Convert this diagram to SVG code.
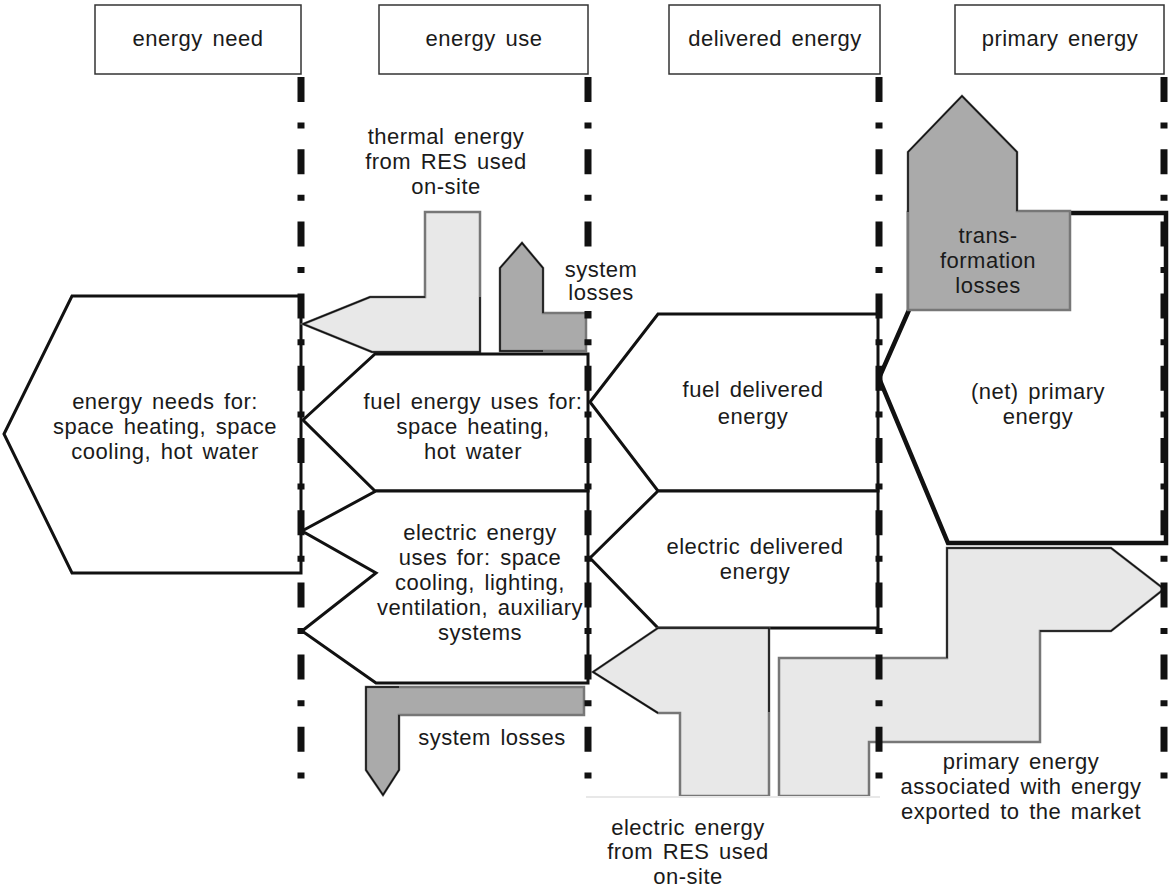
<svg xmlns="http://www.w3.org/2000/svg" width="1169" height="888" viewBox="0 0 1169 888">
<style>
text{font-family:"Liberation Sans",Arial,sans-serif;font-size:22px;letter-spacing:0.5px;word-spacing:3px;fill:#1a1a1a;text-anchor:middle}
.hdr{fill:#fff;stroke:#333;stroke-width:1.5}
.main{fill:#fff;stroke:#111;stroke-width:3;stroke-linejoin:miter}
.thick{fill:#fff;stroke:#111;stroke-width:4.5;stroke-linejoin:miter}
.lg{fill:#e8e8e8;stroke:#777;stroke-width:2.5}
.dg{fill:#aaaaaa;stroke:#777;stroke-width:2.5}
.thin{fill:none;stroke:#111;stroke-width:1.5}
.axis{stroke:#111;stroke-width:7;stroke-dasharray:25 20.6 6 20.6;fill:none}
</style>
<g id="headers">
<g id="h-need"><rect class="hdr" x="95" y="5" width="206" height="69"/><text x="198" y="46">energy need</text></g>
<g id="h-use"><rect class="hdr" x="379" y="5" width="209" height="69"/><text x="484" y="46">energy use</text></g>
<g id="h-delivered"><rect class="hdr" x="669" y="5" width="211" height="69"/><text x="775" y="46">delivered energy</text></g>
<g id="h-primary"><rect class="hdr" x="955" y="5" width="209" height="69"/><text x="1060" y="46">primary energy</text></g>
</g>
<g id="energy-need">
<polygon class="main" points="4,434 72,296 301,296 301,573 72,573"/>
<text x="165" y="409">energy needs for:</text>
<text x="165" y="434">space heating, space</text>
<text x="165" y="459">cooling, hot water</text>
</g>
<g id="thermal-res">
<polygon class="lg" points="425,212 480,212 480,352 372,352 303,324 370,297 425,297"/>
<polyline class="thin" points="480,297 480,352 372,352 303,324 370,297 425,297"/>
<text x="446" y="144">thermal energy</text>
<text x="446" y="169">from RES used</text>
<text x="446" y="194">on-site</text>
</g>
<g id="system-losses-top">
<polygon class="dg" points="500,268 522,243 543,268 543,313 586,313 586,351 500,351"/>
<polyline class="thin" points="543,313 543,268 522,243 500,268 500,351 543,351"/>
</g>
<g id="fuel-uses">
<polygon class="main" points="375,354 588,354 588,491 375,491 303,420"/>
<text x="473" y="409">fuel energy uses for:</text>
<text x="473" y="434">space heating,</text>
<text x="473" y="459">hot water</text>
</g>
<g id="electric-uses">
<polygon class="main" points="376,491 588,491 588,683 376,683 302,631 376,573 302,531"/>
<text x="480" y="540">electric energy</text>
<text x="480" y="565">uses for: space</text>
<text x="480" y="590">cooling, lighting,</text>
<text x="480" y="615">ventilation, auxiliary</text>
<text x="480" y="640">systems</text>
</g>
<g id="system-losses-bottom">
<polygon class="dg" points="366,687 584,687 584,715 399,715 399,770 383,795 366,770"/>
<polyline class="thin" points="399,715 399,770 383,795 366,770 366,687 399,687"/>
<text x="492" y="745">system losses</text>
</g>
<g id="fuel-delivered">
<polygon class="main" points="590,402 658,314 878,314 878,491 658,491"/>
<text x="753" y="397">fuel delivered</text>
<text x="753" y="424">energy</text>
</g>
<g id="electric-delivered">
<polygon class="main" points="590,558 658,491 878,491 878,628 658,628"/>
<text x="755" y="554">electric delivered</text>
<text x="755" y="579">energy</text>
</g>
<g id="electric-res">
<polygon class="lg" points="593,672 658,628 769,628 769,796 680,796 680,713 658,713"/>
<polyline class="thin" points="658,713 593,672 658,628 769,628 769,712"/>
<text x="688" y="835">electric energy</text>
<text x="688" y="859">from RES used</text>
<text x="688" y="884">on-site</text>
</g>
<g id="net-primary">
<polygon class="thick" points="909,213 1166,213 1166,543 948,543 879,378 909,310"/>
<text x="1038" y="399">(net) primary</text>
<text x="1038" y="424">energy</text>
</g>
<g id="transformation-losses">
<polygon class="dg" points="908,152 962,96 1017,152 1017,211 1070,211 1070,310 908,310"/>
<polyline class="thin" points="908,212 908,152 962,96 1017,152 1017,211"/>
<text x="988" y="243">trans-</text>
<text x="988" y="268">formation</text>
<text x="988" y="293">losses</text>
</g>
<g id="exported">
<polygon class="lg" points="779,796 779,658 947,658 947,548 1111,548 1164,589 1111,631 1040,631 1040,742 869,742 869,796"/>
<polyline class="thin" points="947,658 947,548 1111,548 1164,589 1111,631 1040,631"/>
<text x="1021" y="769">primary energy</text>
<text x="1021" y="794">associated with energy</text>
<text x="1021" y="819">exported to the market</text>
</g>
<g id="connectors">
<line class="axis" x1="301" y1="77" x2="301" y2="779"/>
<line class="axis" x1="588" y1="77" x2="588" y2="779"/>
<line class="axis" x1="879" y1="77" x2="879" y2="779"/>
<line class="axis" x1="1164" y1="77" x2="1164" y2="779"/>
<line x1="586" y1="797" x2="880" y2="797" stroke="#e8e8e8" stroke-width="2"/>
</g>
<g id="system-losses-top-label">
<rect x="562" y="249" width="78" height="62" fill="#fff"/>
<text x="601" y="277">system</text>
<text x="601" y="300">losses</text>
</g>
</svg>
